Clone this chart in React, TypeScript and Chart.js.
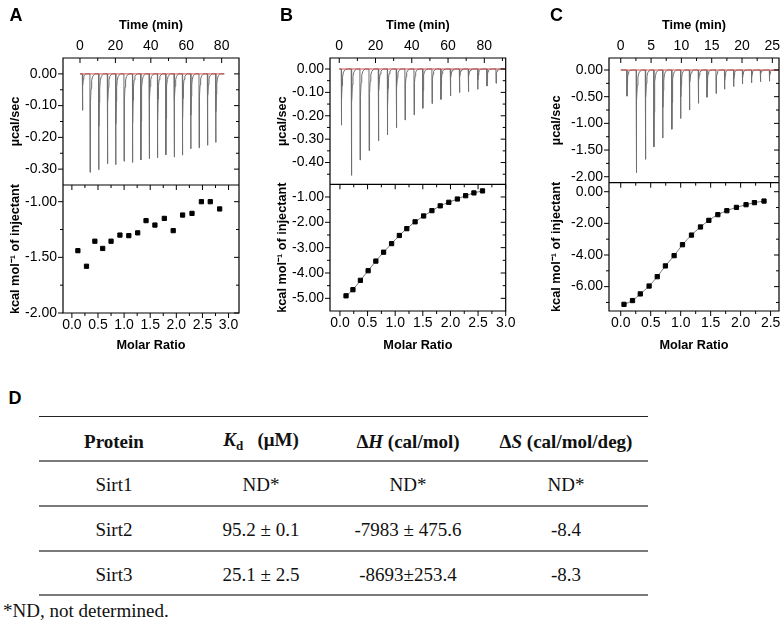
import React, { useEffect, useRef } from 'react';
import { Chart, registerables } from 'chart.js';

Chart.register(...registerables);

const SANS = '"Liberation Sans", Arial, Helvetica, sans-serif';
const SERIF = '"Liberation Serif", "Times New Roman", Times, serif';

// ---------- Panel A data ----------
const A_INJ_TIME = [1.3, 5.6, 10.5, 15.4, 20.1, 24.8, 29.6, 34.3, 39.0, 43.7, 48.4, 53.1, 57.8, 62.5, 67.2, 71.9, 76.6];
const A_PEAK = [-0.115, -0.31, -0.302, -0.283, -0.286, -0.275, -0.279, -0.271, -0.267, -0.264, -0.255, -0.262, -0.256, -0.236, -0.233, -0.225, -0.216];
const A_MOLAR = [0.115, 0.28, 0.44, 0.59, 0.75, 0.92, 1.09, 1.26, 1.42, 1.59, 1.77, 1.94, 2.12, 2.3, 2.48, 2.65, 2.83];
const A_HEAT = [-1.44, -1.58, -1.355, -1.42, -1.355, -1.3, -1.305, -1.28, -1.17, -1.21, -1.15, -1.26, -1.12, -1.105, -1.0, -1.0, -1.065];
const A_TIME_TICKS = [0, 20, 40, 60, 80];
const A_MOLAR_TICKS = [0, 0.5, 1, 1.5, 2, 2.5, 3];
const A_RAW_TICKS = [0, -0.1, -0.2, -0.3];
const A_HEAT_TICKS = [-1, -1.5, -2];

// ---------- Panel B data ----------
const B_INJ_TIME = [1.1, 6.6, 11.4, 16.4, 21.5, 26.5, 31.4, 36.2, 41.2, 46.0, 51.1, 56.0, 61.2, 66.2, 71.1, 76.3, 81.4, 86.4];
const B_PEAK = [-0.24, -0.455, -0.389, -0.349, -0.307, -0.282, -0.251, -0.218, -0.196, -0.168, -0.148, -0.13, -0.115, -0.101, -0.097, -0.087, -0.073, -0.061];
const B_MOLAR = [0.11, 0.235, 0.37, 0.51, 0.65, 0.79, 0.935, 1.075, 1.21, 1.36, 1.515, 1.665, 1.815, 1.97, 2.125, 2.275, 2.425, 2.58];
const B_HEAT = [-4.9, -4.66, -4.29, -3.91, -3.53, -3.18, -2.84, -2.52, -2.25, -1.98, -1.75, -1.54, -1.35, -1.21, -1.08, -0.95, -0.84, -0.76];
const B_TIME_TICKS = [0, 20, 40, 60, 80];
const B_MOLAR_TICKS = [0, 0.5, 1, 1.5, 2, 2.5, 3];
const B_RAW_TICKS = [0, -0.1, -0.2, -0.3, -0.4];
const B_HEAT_TICKS = [-1, -2, -3, -4, -5];

// ---------- Panel C data ----------
const C_INJ_TIME = [1.0, 2.53, 4.04, 5.44, 6.9, 8.4, 9.86, 11.3, 12.77, 14.2, 15.7, 17.1, 18.6, 20.05, 21.55, 23.0, 24.5];
const C_PEAK = [-0.49, -1.925, -1.675, -1.44, -1.275, -1.11, -0.91, -0.75, -0.625, -0.51, -0.44, -0.36, -0.31, -0.26, -0.24, -0.22, -0.21];
const C_MOLAR = [0.054, 0.196, 0.326, 0.473, 0.609, 0.745, 0.89, 1.03, 1.18, 1.33, 1.47, 1.62, 1.77, 1.93, 2.09, 2.23, 2.39];
const C_HEAT = [-7.12, -6.88, -6.46, -5.96, -5.37, -4.69, -4.04, -3.35, -2.74, -2.23, -1.81, -1.45, -1.2, -0.99, -0.82, -0.69, -0.59];
const C_TIME_TICKS = [0, 5, 10, 15, 20, 25];
const C_MOLAR_TICKS = [0, 0.5, 1, 1.5, 2, 2.5];
const C_RAW_TICKS = [0, -0.5, -1, -1.5, -2];
const C_HEAT_TICKS = [0, -2, -4, -6];

// ---------- Table D data ----------
const PROTEINS = ['Sirt1', 'Sirt2', 'Sirt3'];
const KD = ['ND*', '95.2 \u00b1 0.1', '25.1 \u00b1 2.5'];
const DELTA_H = ['ND*', '-7983 \u00b1 475.6', '-8693\u00b1253.4'];
const DELTA_S = ['ND*', '-8.4', '-8.3'];
const FOOTNOTE = '*ND, not determined.';

// relative shape of one injection peak (fraction of the injection interval, fraction of peak depth)
const PEAK_SHAPE = [
  [0.015, 1], [0.04, 0.55], [0.08, 0.3], [0.13, 0.15], [0.2, 0.07], [0.3, 0.03], [0.45, 0.01], [0.6, 0],
];

function buildTrace(times: number[], depths: number[], start: number, end: number) {
  const pts: { x: number; y: number }[] = [{ x: start, y: 0 }];
  times.forEach((t, i) => {
    const next = i + 1 < times.length ? times[i + 1] : end;
    const gap = next - t;
    pts.push({ x: t, y: 0 });
    PEAK_SHAPE.forEach(([dx, f]) => pts.push({ x: t + gap * dx, y: depths[i] * f }));
  });
  pts.push({ x: end, y: 0 });
  return pts;
}

function minorValues(majors: number[], min: number, max: number) {
  const out: number[] = [];
  const sorted = [...majors].sort((a, b) => a - b);
  for (let i = 0; i < sorted.length - 1; i++) out.push((sorted[i] + sorted[i + 1]) / 2);
  if (sorted.length > 1) {
    const step = sorted[1] - sorted[0];
    out.push(sorted[0] - step / 2, sorted[sorted.length - 1] + step / 2);
  }
  const eps = (max - min) * 1e-3;
  return out.filter((v) => v > min + eps && v < max - eps);
}

const frameTicks = {
  id: 'frameTicks',
  afterDraw(chart: any) {
    const { ctx, chartArea: a, scales } = chart;
    const yT = scales.yTop, yB = scales.yBot, xt = scales.xt, xm = scales.xm;
    ctx.save();
    ctx.strokeStyle = '#000';
    ctx.lineWidth = 1.2;
    ctx.beginPath();
    ctx.rect(a.left, a.top, a.right - a.left, a.bottom - a.top);
    ctx.moveTo(a.left, yT.bottom);
    ctx.lineTo(a.right, yT.bottom);
    ctx.stroke();

    ctx.lineWidth = 1;
    const MAJ = 5, MIN = 3;
    const seg = (x1: number, y1: number, x2: number, y2: number) => {
      ctx.moveTo(x1, y1);
      ctx.lineTo(x2, y2);
    };
    ctx.beginPath();
    [yT, yB].forEach((s: any) => {
      const majors = s.ticks.map((t: any) => t.value);
      const minors = minorValues(majors, s.min, s.max);
      majors.forEach((v: number) => {
        const y = s.getPixelForValue(v);
        seg(a.left, y, a.left - MAJ, y);
        seg(a.right, y, a.right - MAJ, y);
      });
      minors.forEach((v: number) => {
        const y = s.getPixelForValue(v);
        seg(a.left, y, a.left - MIN, y);
        seg(a.right, y, a.right - MIN, y);
      });
    });
    {
      const majors = xt.ticks.map((t: any) => t.value);
      const minors = minorValues(majors, xt.min, xt.max);
      majors.forEach((v: number) => {
        const x = xt.getPixelForValue(v);
        seg(x, a.top, x, a.top + MAJ);
      });
      minors.forEach((v: number) => {
        const x = xt.getPixelForValue(v);
        seg(x, a.top, x, a.top + MIN);
      });
    }
    {
      const majors = xm.ticks.map((t: any) => t.value);
      const minors = minorValues(majors, xm.min, xm.max);
      const dy = yT.bottom;
      majors.forEach((v: number) => {
        const x = xm.getPixelForValue(v);
        seg(x, a.bottom, x, a.bottom + MAJ);
        seg(x, dy, x, dy + MAJ);
      });
      minors.forEach((v: number) => {
        const x = xm.getPixelForValue(v);
        seg(x, a.bottom, x, a.bottom + MIN);
        seg(x, dy, x, dy + MIN);
      });
    }
    ctx.stroke();
    ctx.restore();
  },
};

interface AxisCfg { min: number; max: number; ticks: number[]; dec: number }
interface PanelCfg {
  left: number; width: number; height: number;
  axisW: number; padRight: number; topH: number; bottomH: number; yTitlePad: number;
  topWeight: number; botWeight: number;
  time: AxisCfg; molar: AxisCfg; raw: AxisCfg; heat: AxisCfg;
  injTimes: number[]; peaks: number[]; traceEnd: number;
  molarX: number[]; heatY: number[]; fit: boolean;
}

const TICK_FONT = { family: SANS, size: 14 };
const TITLE_FONT = { family: SANS, size: 12.7, weight: 'bold' as const };

function xScale(ax: AxisCfg, position: 'top' | 'bottom', h: number, title: string, titlePad: any, pad: number) {
  return {
    type: 'linear', axis: 'x', position, min: ax.min, max: ax.max,
    grid: { display: false, drawTicks: false },
    border: { display: false },
    afterBuildTicks: (s: any) => { s.ticks = ax.ticks.map((v) => ({ value: v })); },
    afterFit: (s: any) => { s.height = h; s.paddingLeft = 0; s.paddingRight = 0; s.paddingTop = 0; s.paddingBottom = 0; },
    ticks: {
      autoSkip: false, maxRotation: 0, minRotation: 0, padding: pad, color: '#000', font: TICK_FONT,
      callback: (v: any) => Number(v).toFixed(ax.dec),
    },
    title: { display: true, text: title, color: '#000', font: TITLE_FONT, padding: titlePad },
  };
}

function yScale(ax: AxisCfg, w: number, title: string, titlePad: number, weight: number, stackWeight: number) {
  return {
    type: 'linear', axis: 'y', position: 'left', stack: 'panel', stackWeight, weight,
    min: ax.min, max: ax.max,
    grid: { display: false, drawTicks: false },
    border: { display: false },
    afterBuildTicks: (s: any) => { s.ticks = ax.ticks.map((v) => ({ value: v })); },
    afterFit: (s: any) => { s.width = w; s.paddingLeft = 0; s.paddingRight = 0; s.paddingTop = 0; s.paddingBottom = 0; },
    ticks: {
      autoSkip: false, padding: 6, color: '#000', font: TICK_FONT,
      callback: (v: any) => Number(v).toFixed(ax.dec),
    },
    title: { display: true, text: title, color: '#000', font: TITLE_FONT, padding: { top: titlePad, bottom: 0 } },
  };
}

function buildConfig(c: PanelCfg): any {
  const datasets: any[] = [
    {
      data: [{ x: 0, y: 0 }, { x: c.traceEnd, y: 0 }],
      xAxisID: 'xt', yAxisID: 'yTop', showLine: true,
      borderColor: '#cc3b3b', borderWidth: 0.9, pointRadius: 0,
    },
    {
      data: buildTrace(c.injTimes, c.peaks, 0, c.traceEnd),
      xAxisID: 'xt', yAxisID: 'yTop', showLine: true,
      borderColor: '#6e6e6e', borderWidth: 1, pointRadius: 0, tension: 0,
    },
    {
      data: c.molarX.map((x, i) => ({ x, y: c.heatY[i] })),
      xAxisID: 'xm', yAxisID: 'yBot', showLine: false,
      pointStyle: 'rect', pointRadius: 3, pointBorderWidth: 1,
      pointBackgroundColor: '#000', pointBorderColor: '#000',
    },
  ];
  if (c.fit) {
    datasets.push({
      data: c.molarX.map((x, i) => ({ x, y: c.heatY[i] })),
      xAxisID: 'xm', yAxisID: 'yBot', showLine: true,
      borderColor: '#777777', borderWidth: 1, pointRadius: 0,
      cubicInterpolationMode: 'monotone',
    });
  }
  return {
    type: 'scatter',
    data: { datasets },
    options: {
      responsive: false, maintainAspectRatio: false, animation: false, devicePixelRatio: 1,
      events: [],
      layout: { padding: { left: 0, right: c.padRight, top: 0, bottom: 0 } },
      plugins: { legend: { display: false }, tooltip: { enabled: false } },
      scales: {
        xt: xScale(c.time, 'top', c.topH, 'Time (min)', { top: 18, bottom: 0 }, 3),
        xm: xScale(c.molar, 'bottom', c.bottomH, 'Molar Ratio', { top: 0, bottom: 6.9 }, 4),
        yTop: yScale(c.raw, c.axisW, '\u00b5cal/sec', c.yTitlePad, 2, c.topWeight),
        yBot: yScale(c.heat, c.axisW, 'kcal mol\u207b\u00b9 of injectant', c.yTitlePad, 1, c.botWeight),
      },
    },
    plugins: [frameTicks],
  };
}

const PANELS: PanelCfg[] = [
  {
    left: 0, width: 250, height: 360, axisW: 63, padRight: 11, topH: 58, bottomH: 47, yTitlePad: 7.4,
    topWeight: 127, botWeight: 128,
    time: { min: -9.6, max: 89.8, ticks: A_TIME_TICKS, dec: 0 },
    molar: { min: -0.17, max: 3.2, ticks: A_MOLAR_TICKS, dec: 1 },
    raw: { min: -0.35, max: 0.05, ticks: A_RAW_TICKS, dec: 2 },
    heat: { min: -2.0, max: -0.85, ticks: A_HEAT_TICKS, dec: 2 },
    injTimes: A_INJ_TIME, peaks: A_PEAK, traceEnd: 81.5,
    molarX: A_MOLAR, heatY: A_HEAT, fit: false,
  },
  {
    left: 262, width: 256, height: 360, axisW: 68, padRight: 12.3, topH: 58, bottomH: 49, yTitlePad: 12.4,
    topWeight: 126.3, botWeight: 126.7,
    time: { min: -5.1, max: 91.8, ticks: B_TIME_TICKS, dec: 0 },
    molar: { min: -0.18, max: 3.0, ticks: B_MOLAR_TICKS, dec: 1 },
    raw: { min: -0.493, max: 0.047, ticks: B_RAW_TICKS, dec: 2 },
    heat: { min: -5.5, max: -0.5, ticks: B_HEAT_TICKS, dec: 2 },
    injTimes: B_INJ_TIME, peaks: B_PEAK, traceEnd: 91.5,
    molarX: B_MOLAR, heatY: B_HEAT, fit: true,
  },
  {
    left: 530, width: 254, height: 360, axisW: 79, padRight: 1.3, topH: 58, bottomH: 49, yTitlePad: 18.4,
    topWeight: 124.7, botWeight: 128.3,
    time: { min: -1.94, max: 26.1, ticks: C_TIME_TICKS, dec: 0 },
    molar: { min: -0.196, max: 2.64, ticks: C_MOLAR_TICKS, dec: 1 },
    raw: { min: -2.112, max: 0.225, ticks: C_RAW_TICKS, dec: 2 },
    heat: { min: -7.54, max: 0.57, ticks: C_HEAT_TICKS, dec: 2 },
    injTimes: C_INJ_TIME, peaks: C_PEAK, traceEnd: 26.0,
    molarX: C_MOLAR, heatY: C_HEAT, fit: true,
  },
];

function Panel({ cfg }: { cfg: PanelCfg }) {
  const ref = useRef<HTMLCanvasElement>(null);
  useEffect(() => {
    const chart = new Chart(ref.current as HTMLCanvasElement, buildConfig(cfg));
    return () => chart.destroy();
  }, [cfg]);
  return (
    <canvas
      ref={ref}
      width={cfg.width}
      height={cfg.height}
      style={{ position: 'absolute', left: cfg.left, top: 0, width: cfg.width, height: cfg.height }}
    />
  );
}

function Txt({ x, y, children, style }: { x: number; y: number; children: any; style?: any }) {
  return (
    <div
      style={{
        position: 'absolute', left: x, top: y, transform: 'translate(-50%, -50%)',
        whiteSpace: 'nowrap', lineHeight: 1, ...style,
      }}
    >
      {children}
    </div>
  );
}

const letterStyle = { fontFamily: SANS, fontWeight: 'bold', fontSize: 18, color: '#000' };
const cellStyle = { fontFamily: SERIF, fontSize: 19, color: '#111' };
const headStyle = { ...cellStyle, fontWeight: 'bold' };

export default function App() {
  const colX = [114, 261, 408, 566];
  const headY = 441;
  const rowY = [484, 529, 574];
  const ruleY = [416, 461, 506, 551, 595];
  return (
    <div
      style={{
        position: 'fixed', left: 0, top: 0, width: 784, height: 621,
        background: '#fff', overflow: 'hidden',
      }}
    >
      {PANELS.map((p, i) => <Panel key={i} cfg={p} />)}
      <Txt x={16} y={14.5} style={letterStyle}>A</Txt>
      <Txt x={286.5} y={14.5} style={letterStyle}>B</Txt>
      <Txt x={556.5} y={14.5} style={letterStyle}>C</Txt>
      <Txt x={15} y={398} style={letterStyle}>D</Txt>

      {ruleY.map((y, i) => (
        <div
          key={i}
          style={{
            position: 'absolute', left: 39, width: 609, top: y - (i === 0 ? 0.5 : 1),
            height: i === 0 ? 1 : 2, background: i === 0 ? '#222' : '#7a7a7a',
          }}
        />
      ))}

      <Txt x={colX[0]} y={headY} style={headStyle}>Protein</Txt>
      <Txt x={colX[1]} y={headY} style={headStyle}>
        <i>K</i><span style={{ fontSize: 13, verticalAlign: '-0.25em' }}>d</span>{'\u00a0\u00a0\u00a0(\u03bcM)'}
      </Txt>
      <Txt x={colX[2]} y={headY} style={headStyle}>
        {'\u0394'}<i>H</i>{' (cal/mol)'}
      </Txt>
      <Txt x={colX[3]} y={headY} style={headStyle}>
        {'\u0394'}<i>S</i>{' (cal/mol/deg)'}
      </Txt>

      {PROTEINS.map((p, i) => (
        <React.Fragment key={p}>
          <Txt x={colX[0]} y={rowY[i]} style={cellStyle}>{p}</Txt>
          <Txt x={colX[1]} y={rowY[i]} style={cellStyle}>{KD[i]}</Txt>
          <Txt x={colX[2]} y={rowY[i]} style={cellStyle}>{DELTA_H[i]}</Txt>
          <Txt x={colX[3]} y={rowY[i]} style={cellStyle}>{DELTA_S[i]}</Txt>
        </React.Fragment>
      ))}

      <div
        style={{
          position: 'absolute', left: 3, top: 610, transform: 'translateY(-50%)',
          whiteSpace: 'nowrap', lineHeight: 1, ...cellStyle,
        }}
      >
        {FOOTNOTE}
      </div>
    </div>
  );
}
